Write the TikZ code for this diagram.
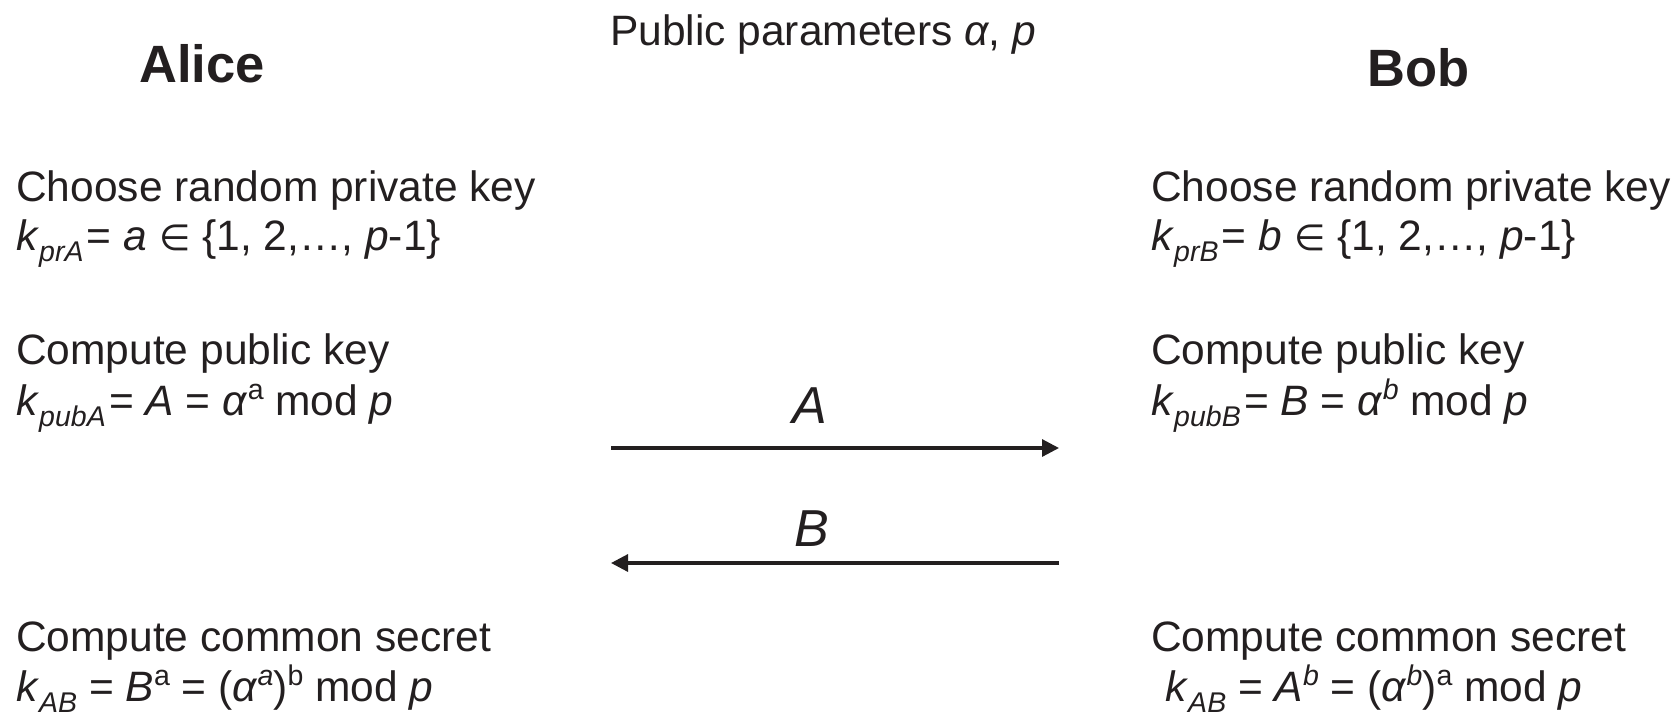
\documentclass[tikz,border=0pt]{standalone}
\usepackage{fontspec}
\setmainfont{Liberation Sans}
\newfontfamily\symf{DejaVu Sans}
\usetikzlibrary{arrows.meta}
\definecolor{ink}{RGB}{35,31,32}
\newcommand\lo[1]{\raisebox{-0.28em}{\fontsize{28.5}{28.5}\selectfont #1}}
\newcommand\hi[1]{\raisebox{0.36em}{\fontsize{28.5}{28.5}\selectfont #1}}
\newcommand\elem{{\symf\fontsize{36}{36}\selectfont ∈}}
\newcommand\tsp{\hspace{0.08em}}
\begin{document}
\begin{tikzpicture}[x=1pt,y=-1pt,
  txt/.style={anchor=base west, inner sep=0pt, text=ink, font=\fontsize{42.5}{50}\selectfont},
  head/.style={anchor=base, inner sep=0pt, text=ink, font=\fontsize{52.5}{60}\selectfont\bfseries},
  lbl/.style={anchor=base, inner sep=0pt, text=ink, font=\fontsize{52}{60}\selectfont\itshape},
  msg/.style={draw=ink, line width=3.2pt, -{Triangle[length=17pt,width=17pt]}}]
\useasboundingbox (0,0) rectangle (1679,716);
\node[head] (alice) at (202,82) {Alice};
\node[head] (bob) at (1419,86) {Bob};
\node[txt] (pub) at (610,45) {Public parameters \textit{α}, \textit{p}};
% Alice
\node[txt] (a1) at (16,201) {Choose random private key};
\node[txt] (a2) at (16,250) {\textit{k}\lo{\textit{prA}}\tsp= \textit{a} \elem\ \{1, 2,…, \textit{p}-1\}};
\node[txt] (a3) at (16,364) {Compute public key};
\node[txt] (a4) at (16,415) {\textit{k}\lo{\textit{pubA}}\tsp= \textit{A} = \textit{α}\hi{a} mod \textit{p}};
\node[txt] (a5) at (16,651) {Compute common secret};
\node[txt] (a6) at (16,701) {\textit{k}\lo{\textit{AB}} = \textit{B}\hi{a} = (\textit{α}\hi{\textit{a}})\hi{b} mod \textit{p}};
% Bob
\node[txt] (b1) at (1151,201) {Choose random private key};
\node[txt] (b2) at (1151,250) {\textit{k}\lo{\textit{prB}}\tsp= \textit{b} \elem\ \{1, 2,…, \textit{p}-1\}};
\node[txt] (b3) at (1151,364) {Compute public key};
\node[txt] (b4) at (1151,415) {\textit{k}\lo{\textit{pubB}}\tsp= \textit{B} = \textit{α}\hi{\textit{b}} mod \textit{p}};
\node[txt] (b5) at (1151,651) {Compute common secret};
\node[txt] (b6) at (1165,701) {\textit{k}\lo{\textit{AB}} = \textit{A}\hi{\textit{b}} = (\textit{α}\hi{\textit{b}})\hi{a} mod \textit{p}};
% messages
\coordinate (aL) at (611,448);
\coordinate (aR) at (1059,448);
\coordinate (bL) at (611,563);
\coordinate (bR) at (1059,563);
\node[lbl] (la) at (810,423) {A};
\node[lbl] (lb) at (812,546) {B};
\draw[msg] (aL) -- (aR);
\draw[msg] (bR) -- (bL);
\end{tikzpicture}
\end{document}
